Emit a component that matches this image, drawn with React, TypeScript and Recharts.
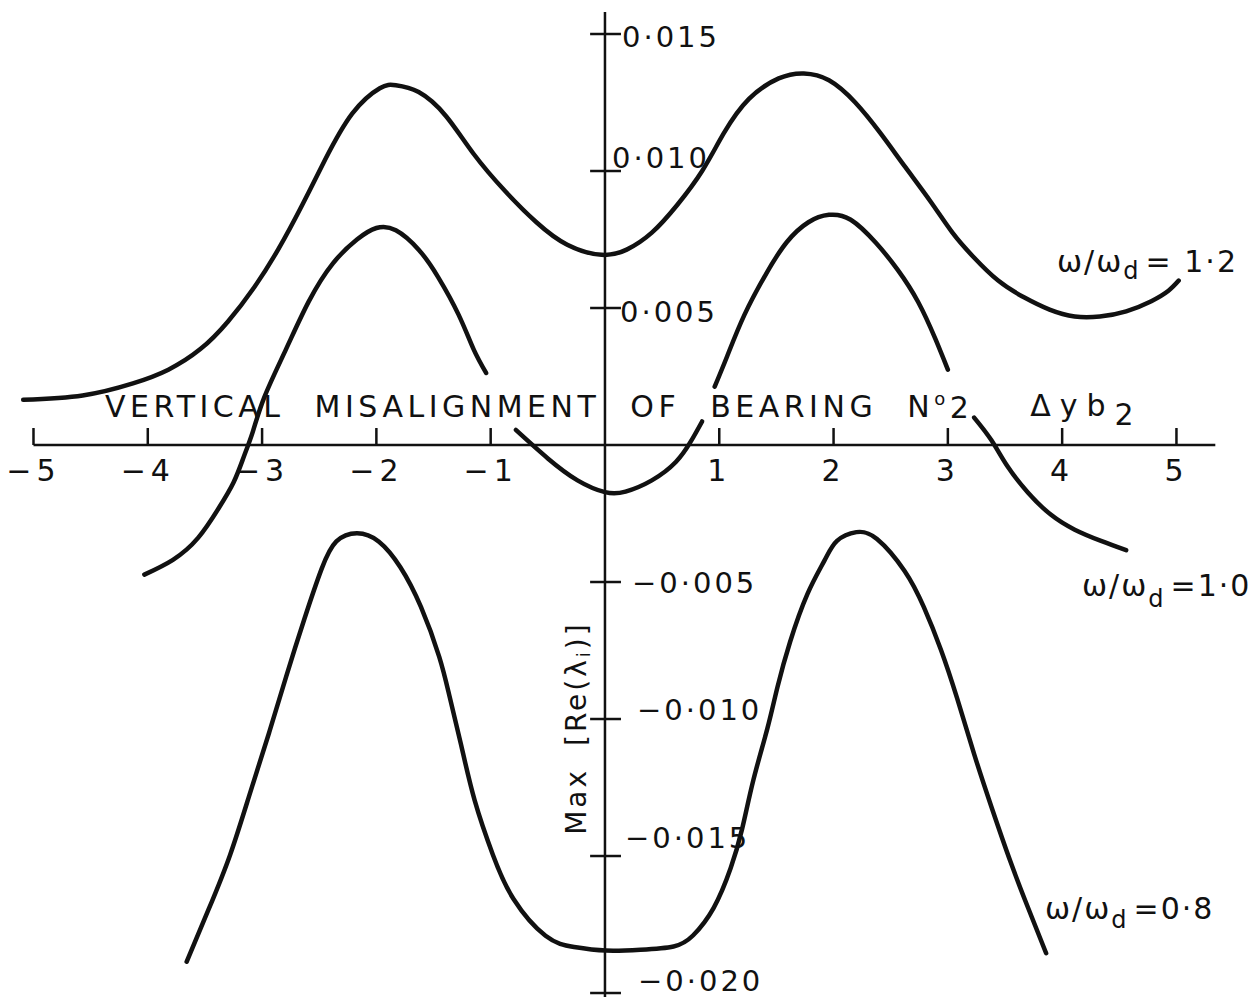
import React from "react";
import { LineChart, Line, XAxis, YAxis, ReferenceLine, ReferenceDot } from "recharts";

const FONT = "'DejaVu Sans', 'Open Sans', sans-serif";
const INK = "#111";

// ω/ωd = 1.2 : one continuous curve
const ratio12: [number, number][] = [
  [-5.09, 0.00165], [-4.57, 0.00181], [-4.13, 0.00225], [-3.82, 0.00275], [-3.54, 0.0035],
  [-3.3, 0.0045], [-3.07, 0.00575], [-2.86, 0.00713], [-2.65, 0.00875], [-2.45, 0.0104],
  [-2.21, 0.0121], [-1.97, 0.01302], [-1.83, 0.01313], [-1.63, 0.01288], [-1.39, 0.012],
  [-1.15, 0.01063], [-0.87, 0.00925], [-0.6, 0.00813], [-0.33, 0.00731], [-0.03, 0.00694],
  [0.19, 0.00713], [0.41, 0.00775], [0.63, 0.00875], [0.85, 0.01], [1.04, 0.01138],
  [1.26, 0.01263], [1.52, 0.01338], [1.74, 0.01356], [1.96, 0.01331], [2.19, 0.0125],
  [2.41, 0.01138], [2.63, 0.01013], [2.85, 0.00888], [3.04, 0.00775], [3.22, 0.00688],
  [3.44, 0.006], [3.67, 0.00538], [3.89, 0.00494], [4.11, 0.00469], [4.33, 0.00469],
  [4.56, 0.00488], [4.78, 0.00525], [4.93, 0.00563], [5.02, 0.006],
];

// ω/ωd = 1.0 : drawn as four separate branches
const ratio10Left: [number, number][] = [
  [-4.03, -0.00473], [-3.78, -0.00419], [-3.56, -0.00339], [-3.38, -0.00231], [-3.25, -0.00137],
  [-3.16, -0.00043], [-3.08, 0.0005], [-2.98, 0.00175], [-2.79, 0.0035], [-2.59, 0.00525],
  [-2.38, 0.00663], [-2.17, 0.0075], [-2.0, 0.00792], [-1.83, 0.00784], [-1.63, 0.00713],
  [-1.46, 0.00613], [-1.28, 0.00475], [-1.15, 0.0035], [-1.04, 0.00263],
];
const ratio10Mid: [number, number][] = [
  [-0.78, 0.00055], [-0.5, -0.00049], [-0.24, -0.00129], [0, -0.00172], [0.18, -0.0017],
  [0.41, -0.00129], [0.62, -0.00062], [0.75, 0.00012], [0.85, 0.00086],
];
const ratio10Right: [number, number][] = [
  [0.96, 0.00213], [1.07, 0.00325], [1.22, 0.00475], [1.41, 0.00625], [1.59, 0.0074],
  [1.78, 0.00813], [1.96, 0.0084], [2.15, 0.00822], [2.37, 0.00738], [2.56, 0.0064],
  [2.74, 0.00522], [2.89, 0.00388], [3.0, 0.00275],
];
const ratio10Tail: [number, number][] = [
  [3.23, 0.001], [3.38, 0.00018], [3.52, -0.00077], [3.7, -0.00173], [3.9, -0.00254],
  [4.11, -0.00309], [4.34, -0.0035], [4.56, -0.00384],
];

// ω/ωd = 0.8
const ratio08: [number, number][] = [
  [-3.66, -0.01886], [-3.47, -0.01697], [-3.28, -0.01496], [-3.1, -0.01263], [-2.94, -0.01052],
  [-2.79, -0.00846], [-2.63, -0.00635], [-2.48, -0.00453], [-2.35, -0.00352], [-2.17, -0.00322],
  [-1.98, -0.00352], [-1.79, -0.00446], [-1.61, -0.00591], [-1.45, -0.00773], [-1.36, -0.00917],
  [-1.26, -0.01092], [-1.14, -0.01297], [-0.98, -0.01496], [-0.8, -0.01657], [-0.52, -0.01791],
  [-0.27, -0.01832], [0.01, -0.01845], [0.31, -0.01842], [0.6, -0.0183], [0.77, -0.0179],
  [0.95, -0.0169], [1.1, -0.01544], [1.2, -0.01401], [1.3, -0.0122], [1.42, -0.01036],
  [1.51, -0.00882], [1.62, -0.00718], [1.77, -0.00545], [1.92, -0.00422], [2.03, -0.0035],
  [2.2, -0.00318], [2.38, -0.00343], [2.62, -0.00459], [2.79, -0.00592], [2.94, -0.00748],
  [3.08, -0.00923], [3.23, -0.01128], [3.38, -0.01319], [3.55, -0.01523], [3.7, -0.01687],
  [3.86, -0.01855],
];

const xTicks = [-5, -4, -3, -2, -1, 1, 2, 3, 4, 5];
const yTicks = [0.015, 0.01, 0.005, -0.005, -0.01, -0.015, -0.02];

// hand-lettered labels sit a little off their ticks
const yLabelNudge: [number, number][] = [
  [17, 3], [7, -13], [15, 4], [27, 1], [32, -9], [20, -18], [33, -12],
];

const rows = (pts: [number, number][]) => pts.map(([x, y]) => ({ x, y }));
const fmtY = (v: number) => (v < 0 ? "−" : "") + Math.abs(v).toFixed(3).replace(".", "·");
const fmtX = (v: number) => (v < 0 ? "−" + Math.abs(v) : String(v));

const Txt = ({ cx, cy, dx = 0, dy = 0, anchor = "start", size = 30, spacing = 3, children }: any) => (
  <text
    x={cx + dx}
    y={cy + dy}
    textAnchor={anchor}
    dominantBaseline="central"
    fontFamily={FONT}
    fontSize={size}
    letterSpacing={spacing}
    fill={INK}
  >
    {children}
  </text>
);

const Sub = ({ children, size = 24, drop = 10 }: any) => (
  <>
    <tspan dy={drop} fontSize={size}>{children}</tspan>
    <tspan dy={-drop}>{"\u200a"}</tspan>
  </>
);

const curve = (pts: [number, number][], key: string) => (
  <Line
    key={key}
    data={rows(pts)}
    dataKey="y"
    type="natural"
    stroke={INK}
    strokeWidth={4.5}
    strokeLinecap="round"
    dot={false}
    activeDot={false}
    isAnimationActive={false}
  />
);

const axisStroke = { stroke: INK, strokeWidth: 2.5 };

export default function App() {
  return (
    <div style={{ position: "absolute", left: 0, top: 0, background: "#fff" }}>
      <LineChart width={1260} height={998} margin={{ top: 0, right: 0, bottom: 0, left: 0 }}>
        <XAxis dataKey="x" type="number" domain={[-5.293, 5.731]} hide allowDataOverflow />
        <YAxis type="number" domain={[-0.020182, 0.016241]} hide allowDataOverflow />

        {/* axes through the origin */}
        <ReferenceLine segment={[{ x: -5, y: 0 }, { x: 5.34, y: 0 }]} {...axisStroke} />
        <ReferenceLine segment={[{ x: 0, y: 0.0158 }, { x: 0, y: -0.02015 }]} {...axisStroke} />
        {xTicks.map((t) => (
          <ReferenceLine key={`xt${t}`} segment={[{ x: t, y: 0 }, { x: t, y: 0.00062 }]} {...axisStroke} />
        ))}
        {yTicks.map((t) => (
          <ReferenceLine key={`yt${t}`} segment={[{ x: -0.13, y: t }, { x: 0.14, y: t }]} {...axisStroke} />
        ))}

        {xTicks.map((t) => (
          <ReferenceDot
            key={`xl${t}`}
            x={t}
            y={0}
            r={0}
            shape={(p: any) => (
              <Txt cx={p.cx} cy={p.cy} dy={25} anchor="middle" spacing={5}>{fmtX(t)}</Txt>
            )}
          />
        ))}
        {yTicks.map((t, i) => (
          <ReferenceDot
            key={`yl${t}`}
            x={0}
            y={t}
            r={0}
            shape={(p: any) => (
              <Txt cx={p.cx} cy={p.cy} dx={yLabelNudge[i][0]} dy={yLabelNudge[i][1]} size={29} spacing={3}>
                {fmtY(t)}
              </Txt>
            )}
          />
        ))}

        {curve(ratio12, "r12")}
        {curve(ratio10Left, "r10a")}
        {curve(ratio10Mid, "r10b")}
        {curve(ratio10Right, "r10c")}
        {curve(ratio10Tail, "r10d")}
        {curve(ratio08, "r08")}

        {/* axis captions */}
        <ReferenceDot
          x={-4.374}
          y={0.00139}
          r={0}
          shape={(p: any) => (
            <text x={p.cx} y={p.cy} dominantBaseline="central" fontFamily={FONT} fontSize={30} letterSpacing={4.5} wordSpacing={16} fill={INK}>
              VERTICAL MISALIGNMENT OF BEARING N
              <tspan dy={-9} fontSize={18}>o</tspan>
              <tspan dy={9}>2</tspan>
            </text>
          )}
        />
        <ReferenceDot
          x={3.72}
          y={0.00146}
          r={0}
          shape={(p: any) => (
            <Txt cx={p.cx} cy={p.cy} spacing={9}>
              Δyb<Sub size={30} drop={9}>2</Sub>
            </Txt>
          )}
        />
        <ReferenceDot
          x={-0.245}
          y={-0.01033}
          r={0}
          shape={(p: any) => (
            <text
              x={p.cx}
              y={p.cy}
              transform={`rotate(-90 ${p.cx} ${p.cy})`}
              textAnchor="middle"
              dominantBaseline="central"
              fontFamily={FONT}
              fontSize={28}
              letterSpacing={3}
              wordSpacing={10}
              fill={INK}
            >
              Max [Re(λ<tspan dy={6} fontSize={18}>i</tspan><tspan dy={-6}>)]</tspan>
            </text>
          )}
        />

        {/* curve labels */}
        <ReferenceDot
          x={3.955}
          y={0.006715}
          r={0}
          shape={(p: any) => (
            <Txt cx={p.cx} cy={p.cy} size={30} spacing={2}>
              ω/ω<Sub>d</Sub>= 1·2
            </Txt>
          )}
        />
        <ReferenceDot
          x={4.173}
          y={-0.00511}
          r={0}
          shape={(p: any) => (
            <Txt cx={p.cx} cy={p.cy} size={30} spacing={2}>
              ω/ω<Sub drop={14}>d</Sub>=1·0
            </Txt>
          )}
        />
        <ReferenceDot
          x={3.85}
          y={-0.0169}
          r={0}
          shape={(p: any) => (
            <Txt cx={p.cx} cy={p.cy} size={30} spacing={2}>
              ω/ω<Sub drop={12}>d</Sub>=0·8
            </Txt>
          )}
        />
      </LineChart>
    </div>
  );
}
